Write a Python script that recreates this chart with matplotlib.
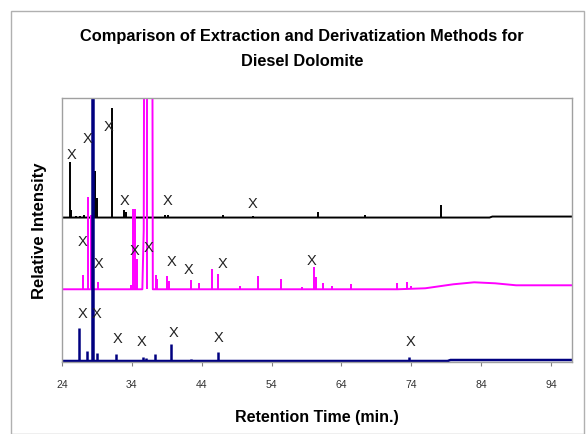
import numpy as np
import matplotlib.pyplot as plt
from matplotlib.patches import Rectangle

plt.rcParams['font.family'] = ['Liberation Sans', 'DejaVu Sans']

# peak retention times (min) and heights (relative units) for each run
black_rt = [25.1, 25.3, 26.0, 26.6, 27.2, 28.7, 29.0, 31.1, 32.9, 33.1, 38.8, 39.2, 47.0, 51.3, 60.7, 67.4, 78.3]
black_h = [56, 8, 2, 2, 3, 47, 20, 110, 8, 6, 3, 3, 3, 2, 6, 3, 13]
black_base_t = [24, 85.2, 85.6, 97]
black_base_y = [0, 0, 1, 1]

mag_rt = [27.0, 27.7, 28.1, 29.1, 33.9, 34.2, 34.5, 34.8, 36.2, 37.4, 37.6, 39.1, 39.3, 42.5, 43.6,
          45.4, 46.3, 49.5, 52.0, 55.4, 58.4, 60.0, 60.3, 61.3, 62.7, 65.4, 72.0, 73.4, 74.0]
mag_h = [14, 93, 75, 7, 4, 81, 81, 30, 400, 14, 10, 13, 8, 9, 6,
         20, 15, 3, 13, 10, 2, 22, 12, 6, 3, 5, 6, 7, 3]
mag_base_t = [24, 35.5, 35.7, 35.8, 36.9, 37.0, 72, 76, 80, 83, 86, 89, 97]
mag_base_y = [0, 0, 60, 400, 400, 0, 0, 1, 5, 7, 6, 4, 4]

navy_rt = [26.4, 27.6, 28.25, 28.5, 29.0, 31.7, 35.6, 36.0, 37.3, 39.6, 42.5, 46.3, 50.5, 55.0, 58.0, 73.6]
navy_h = [33, 10, 400, 400, 8, 7, 4, 3, 7, 17, 2, 9, 1, 1, 1, 4]
navy_base_t = [24, 79.2, 79.6, 97]
navy_base_y = [0, 0, 1, 1]

# identified compounds ("X") : retention time, height above own baseline
black_x_rt = [25.3, 27.7, 30.6, 32.9, 39.1, 51.3]
black_x_h = [64, 80, 92, 18, 18, 15]
mag_x_rt = [27.0, 29.3, 34.4, 36.4, 39.7, 42.1, 47.0, 59.7]
mag_x_h = [48, 26, 39, 42, 28, 20, 26, 29]
navy_x_rt = [26.9, 28.9, 32.0, 35.4, 39.9, 46.4, 73.9]
navy_x_h = [48, 48, 23, 20, 29, 24, 20]

traces = [
    (black_rt, black_h, black_base_t, black_base_y, black_x_rt, black_x_h, 144, 'black', 1.4),
    (mag_rt, mag_h, mag_base_t, mag_base_y, mag_x_rt, mag_x_h, 72, '#ff00ff', 1.4),
    (navy_rt, navy_h, navy_base_t, navy_base_y, navy_x_rt, navy_x_h, 0, '#000080', 1.8),
]

fig = plt.figure(figsize=(5.86, 4.35), dpi=100)
fig.patches.append(Rectangle((11 / 586, 0), 573 / 586, 423 / 435, transform=fig.transFigure,
                             fill=False, edgecolor='#b0b0b0', lw=1))
ax = fig.add_axes([62 / 586, 72 / 435, 510 / 586, 264 / 435])

for rt, h, bt, by, xrt, xh, off, col, lw in traces:
    ax.plot(bt, np.array(by) + off, color=col, lw=lw)
    ax.vlines(rt, off, np.array(h) + off, color=col, lw=lw)
    for t, y in zip(xrt, xh):
        ax.text(t, y + off, 'X', ha='center', va='center', fontsize=10.5, color='#222222')

ax.set_xlim(24, 97)
ax.set_ylim(-1, 264)
ax.set_xticks(np.arange(24, 95, 10))
ax.set_yticks([])
ax.tick_params(axis='x', length=3, color='#808080', labelsize=7.5, labelcolor='#333333', pad=9)
for s in ax.spines.values():
    s.set_color('#a0a0a0')
    s.set_linewidth(1)

ax.set_xlabel('Retention Time (min.)', fontsize=11.5, fontweight='bold', labelpad=15)
ax.set_ylabel('Relative Intensity', fontsize=12, fontweight='bold', labelpad=11)
fig.text(0.515, 1 - 37 / 435, 'Comparison of Extraction and Derivatization Methods for',
         ha='center', va='center', fontsize=11.8, fontweight='bold')
fig.text(0.515, 1 - 62 / 435, 'Diesel Dolomite', ha='center', va='center', fontsize=11.8, fontweight='bold')

plt.savefig('out.png', dpi=100)
